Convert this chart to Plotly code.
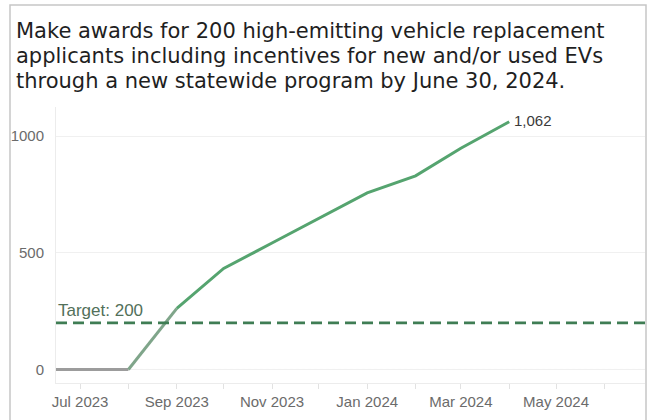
import plotly.graph_objects as go

# Cumulative awards, month by month
months = ["2023-06-01", "2023-07-01", "2023-08-01", "2023-09-01", "2023-10-01",
          "2023-11-01", "2023-12-01", "2024-01-01", "2024-02-01", "2024-03-01",
          "2024-04-01"]
awards = [0, 0, 0, 262, 433, 542, 648, 757, 830, 948, 1062]

target = 200
title_lines = [
    "Make awards for 200 high-emitting vehicle replacement",
    "applicants including incentives for new and/or used EVs",
    "through a new statewide program by June 30, 2024.",
]
y_ticks = [0, 500, 1000]

GREEN = "#55a46f"
GRAY = "#9c9c9c"
BLEND = "#7fa58a"
TICK_FONT = dict(family="Arial, Liberation Sans, sans-serif", size=15, color="#6b6b6b")

W, H = 651, 420
L, R, T, B = 56, 6, 107, 37
PW, PH = W - L - R, H - T - B


def px_x(p):
    return (p - L) / PW


def px_y(p):
    return (H - B - p) / PH


fig = go.Figure()

# flat stretch before the first awards (gray)
fig.add_trace(go.Scatter(x=months[:3], y=awards[:3], mode="lines",
                         line=dict(color=GRAY, width=3), hoverinfo="skip"))
# first rise
fig.add_trace(go.Scatter(x=months[2:4], y=awards[2:4], mode="lines",
                         line=dict(color=BLEND, width=3), hoverinfo="skip"))
# remaining growth (green)
fig.add_trace(go.Scatter(x=months[3:], y=awards[3:], mode="lines",
                         line=dict(color=GREEN, width=3, shape="linear"),
                         hoverinfo="skip"))
# latest value label
fig.add_annotation(x=months[-1], y=awards[-1], text=f"{awards[-1]:,}",
                   showarrow=False, xanchor="left", yanchor="middle", xshift=3, yshift=1,
                   font=dict(family="Arial, Liberation Sans, sans-serif",
                             size=15, color="#3a3a3a"))

x_range = ["2023-06-15 14:00", "2024-06-27"]

# dotted baseline at zero
fig.add_shape(type="line", xref="paper", yref="y", x0=0, x1=1, y0=0, y1=0,
              line=dict(color="#c4c4c4", width=1, dash="dot"), layer="below")
# target line
fig.add_shape(type="line", xref="paper", yref="y", x0=0, x1=1.005, y0=target, y1=target,
              line=dict(color="#3f7d54", width=2.7, dash="11px,6px"), layer="above")
fig.add_annotation(x=0, xref="paper", y=target, yref="y", text=f"Target: {target}",
                   showarrow=False, xanchor="left", yanchor="bottom", xshift=0, yshift=1,
                   font=dict(family="Arial, Liberation Sans, sans-serif", size=17,
                             color="#52705a"))

# outer card border
fig.add_shape(type="rect", xref="paper", yref="paper",
              x0=px_x(10), x1=px_x(646), y0=px_y(430), y1=px_y(5),
              line=dict(color="#c6c6c6", width=1.5), fillcolor="rgba(0,0,0,0)",
              layer="below")

# heading, one annotation per line for tight line spacing
for i, line in enumerate(title_lines):
    fig.add_annotation(x=px_x(14), xref="paper", y=px_y(31 + 25 * i), yref="paper",
                       text=line, showarrow=False,
                       xanchor="left", yanchor="middle", align="left",
                       font=dict(family="DejaVu Sans, Verdana, sans-serif", size=21,
                                 color="#1f1f1f"))

fig.update_xaxes(
    type="date", range=x_range,
    tick0="2023-07-01", dtick="M2", tickformat="%b %Y",
    ticks="outside", ticklen=5, tickcolor="#e2e2e2", ticklabelstandoff=0,
    minor=dict(ticks="outside", ticklen=5, tickcolor="#e2e2e2", dtick="M1",
               tick0="2023-07-01", showgrid=False),
    showgrid=False, zeroline=False,
    showline=True, linecolor="#ececec", linewidth=1,
    tickfont=TICK_FONT,
)
fig.update_yaxes(
    range=[-58, 1125], tickvals=y_ticks, ticktext=[str(v) for v in y_ticks],
    ticks="outside", ticklen=8, tickcolor="rgba(0,0,0,0)",
    showgrid=True, gridcolor="#f0f0f0", gridwidth=1, zeroline=False,
    showline=True, linecolor="#ececec", linewidth=1,
    tickfont=TICK_FONT,
)

fig.update_layout(
    width=W, height=H,
    margin=dict(l=L, r=R, t=T, b=B, pad=0),
    paper_bgcolor="white", plot_bgcolor="white",
    showlegend=False,
)

fig.write_html("out.html")
